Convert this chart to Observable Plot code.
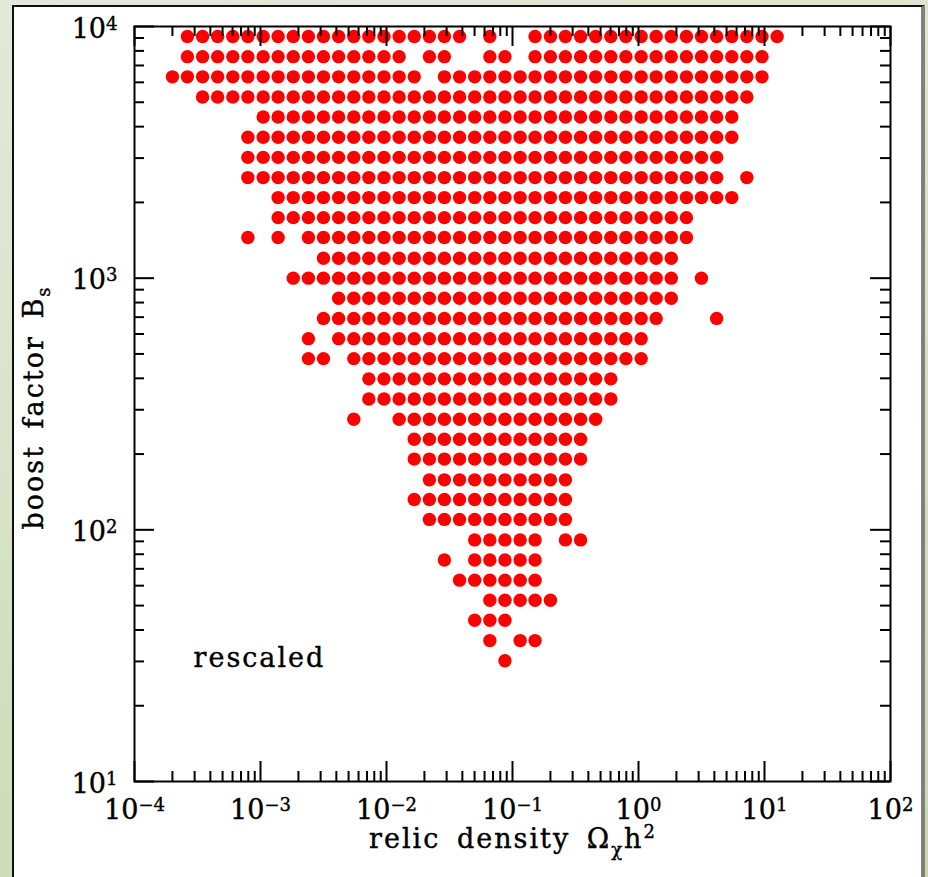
<!DOCTYPE html>
<html>
<head>
<meta charset="utf-8">
<script src="https://cdn.jsdelivr.net/npm/d3@7"></script>
<script src="https://cdn.jsdelivr.net/npm/@observablehq/plot@0.6"></script>
<style>
  html, body { margin: 0; padding: 0; width: 928px; height: 877px; overflow: hidden; }
  body {
    position: relative;
    background: linear-gradient(165deg, #e3e9d9 0%, #d7e2c7 45%, #c8d8b0 100%);
  }
  #panel {
    position: absolute; left: 12px; top: 5px; width: 907px; height: 900px;
    background: #fff;
    border-left: 2px solid #111; border-top: 2px solid #111; border-right: 4px solid #808080;
  }
  #chart { position: absolute; left: 0; top: 0; }
  #chart text { stroke: #000; stroke-width: 0.4px; }
</style>
</head>
<body>
<div id="panel"></div>
<div id="chart"></div>
<script>
// Relic density bin centres (Ω_χ h²), 0.12 decades apart
const omega = [2.00e-4, 2.63e-4, 3.47e-4, 4.57e-4, 6.03e-4, 7.94e-4, 1.05e-3, 1.38e-3,
  1.82e-3, 2.40e-3, 3.16e-3, 4.17e-3, 5.50e-3, 7.24e-3, 9.55e-3, 1.26e-2, 1.66e-2,
  2.19e-2, 2.88e-2, 3.80e-2, 5.01e-2, 6.61e-2, 8.71e-2, 0.115, 0.151, 0.200, 0.263,
  0.347, 0.457, 0.603, 0.794, 1.05, 1.38, 1.82, 2.40, 3.16, 4.17, 5.50, 7.24, 9.55, 12.6];

// Boost factor bin centres (B_s), 0.08 decades apart, top row first
const boost = [9120, 7590, 6310, 5250, 4370, 3630, 3020, 2510, 2090, 1740, 1450, 1200,
  1000, 832, 692, 575, 479, 398, 331, 275, 229, 191, 158, 132, 110, 91.2, 75.9, 63.1,
  52.5, 43.7, 36.3, 30.2];

// Occupied Ω bins (indices into omega) for each boost row
const occupied = [
  "1-19,21,24-40",
  "1-15,17,18,21,22,24-39",
  "0-16,18-39",
  "2-38",
  "6-37",
  "5-37",
  "5-36",
  "5-36,38",
  "7-37",
  "7-34",
  "5,7,9-34",
  "10-33",
  "8-33,35",
  "11-33",
  "10-32,36",
  "9,11-31",
  "9,10,12-31",
  "13-29",
  "13-29",
  "12,15-28",
  "16-27",
  "16-27",
  "17-26",
  "16-26",
  "17-26",
  "20-24,26,27",
  "18,20-24",
  "19-24",
  "21-25",
  "20-22",
  "21,23,24",
  "22"
];

const xTickLabels = ["10^−4", "10^−3", "10^−2", "10^−1", "10^0", "10^1", "10^2"];
const yTickLabels = ["10^1", "10^2", "10^3", "10^4"];

const parseBins = spec => spec.split(",").flatMap(part => {
  const [a, b] = part.split("-").map(Number);
  return b === undefined ? [a] : d3.range(a, b + 1);
});

const points = occupied.flatMap((spec, k) =>
  parseBins(spec).map(j => ({omega: omega[j], boost: boost[k]})));

const xMajor = d3.range(-4, 3).map(e => 10 ** e);
const yMajor = d3.range(1, 5).map(e => 10 ** e);
const minorOf = majors => majors.slice(0, -1).flatMap(m => d3.range(2, 10).map(k => k * m));
const xMinor = minorOf(xMajor);
const yMinor = minorOf(yMajor);

const width = 928, height = 877;
const margin = {top: 26, right: 38, bottom: 96, left: 134};
const innerW = width - margin.left - margin.right;
const innerH = height - margin.top - margin.bottom;
const tickStyle = {stroke: "#000", strokeWidth: 2};
const FONT = "DejaVu Serif";

const chart = Plot.plot({
  width, height,
  marginTop: margin.top, marginRight: margin.right,
  marginBottom: margin.bottom, marginLeft: margin.left,
  x: {type: "log", domain: [1e-4, 1e2], axis: null},
  y: {type: "log", domain: [1e1, 1e4], axis: null},
  style: {background: "transparent", fontFamily: FONT, color: "#000", overflow: "visible"},
  marks: [
    Plot.dot(points, {x: "omega", y: "boost", r: 6.7, fill: "#ff0000", stroke: "none"}),
    // inward ticks on all four sides
    Plot.tickX(xMajor, {x: d => d, insetTop: innerH - 20, ...tickStyle}),
    Plot.tickX(xMinor, {x: d => d, insetTop: innerH - 10, ...tickStyle}),
    Plot.tickX(xMajor, {x: d => d, insetBottom: innerH - 20, ...tickStyle}),
    Plot.tickX(xMinor, {x: d => d, insetBottom: innerH - 10, ...tickStyle}),
    Plot.tickY(yMajor, {y: d => d, insetRight: innerW - 20, ...tickStyle}),
    Plot.tickY(yMinor, {y: d => d, insetRight: innerW - 10, ...tickStyle}),
    Plot.tickY(yMajor, {y: d => d, insetLeft: innerW - 20, ...tickStyle}),
    Plot.tickY(yMinor, {y: d => d, insetLeft: innerW - 10, ...tickStyle}),
    Plot.frame({stroke: "#000", strokeWidth: 2}),
    // tick labels (exponents become superscripts below)
    Plot.text(xMajor, {x: d => d, frameAnchor: "bottom", dy: 29, text: (d, i) => xTickLabels[i],
      textAnchor: "middle", lineAnchor: "middle", fontSize: 27, fill: "#000"}),
    Plot.text(yMajor, {y: d => d, frameAnchor: "left", dx: -17, dy: 2.5, text: (d, i) => yTickLabels[i],
      textAnchor: "end", lineAnchor: "middle", fontSize: 27, fill: "#000"}),
    Plot.text(["rescaled"], {frameAnchor: "bottom-left", dx: 59, dy: -115, text: d => d,
      textAnchor: "start", lineAnchor: "bottom", fontSize: 27, fill: "#000"})
  ]
});

// turn "10^e" labels into 10 with a raised exponent
const textGroups = chart.querySelectorAll('g[aria-label="text"]');
[textGroups[0], textGroups[1]].forEach(g => {
  g.querySelectorAll("text").forEach(el => {
    const [base, exp] = el.textContent.split("^");
    el.textContent = base;
    const sup = document.createElementNS("http://www.w3.org/2000/svg", "tspan");
    sup.setAttribute("dy", "-8");
    sup.setAttribute("font-size", "18");
    sup.textContent = exp;
    el.appendChild(sup);
  });
});
textGroups[2].querySelectorAll("text").forEach(el => el.setAttribute("letter-spacing", "2"));

// axis titles
const svg = d3.select(chart);
const xt = svg.append("text")
  .attr("x", margin.left + innerW / 2 + 1).attr("y", 848)
  .attr("text-anchor", "middle").attr("font-family", FONT).attr("font-size", 27)
  .attr("letter-spacing", 2).attr("word-spacing", 6).attr("fill", "#000");
xt.append("tspan").text("relic density Ω");
xt.append("tspan").attr("font-size", 18).attr("dy", 8).text("χ");
xt.append("tspan").attr("dy", -8).text("h");
xt.append("tspan").attr("font-size", 18).attr("dy", -10).text("2");

const yt = svg.append("text")
  .attr("transform", `translate(43,${margin.top + innerH / 2 + 4}) rotate(-90)`)
  .attr("text-anchor", "middle").attr("font-family", FONT).attr("font-size", 27)
  .attr("letter-spacing", 2).attr("word-spacing", 6).attr("fill", "#000");
yt.append("tspan").text("boost factor B");
yt.append("tspan").attr("font-size", 18).attr("dy", 7).text("s");

document.getElementById("chart").appendChild(chart);
</script>
</body>
</html>
